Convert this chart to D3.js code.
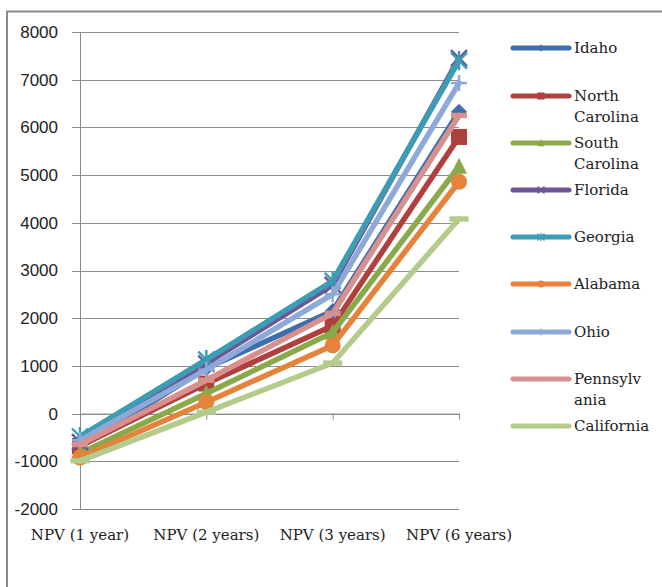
<!DOCTYPE html>
<html><head><meta charset="utf-8">
<script src="https://cdn.jsdelivr.net/npm/d3@7"></script>
<style>body{margin:0;background:#fff;}svg{display:block;}</style>
</head><body>
<svg id="c" width="662" height="587"></svg>
<script>
const categories = ["NPV (1 year)", "NPV (2 years)", "NPV (3 years)", "NPV (6 years)"];
const seriesNames = ["Idaho", "North Carolina", "South Carolina", "Florida", "Georgia", "Alabama", "Ohio", "Pennsylvania", "California"];
const legendLabels = [["Idaho"], ["North", "Carolina"], ["South", "Carolina"], ["Florida"], ["Georgia"], ["Alabama"], ["Ohio"], ["Pennsylv", "ania"], ["California"]];
const idaho = [-700, 950, 2150, 6330];
const northCarolina = [-680, 630, 1840, 5800];
const southCarolina = [-830, 420, 1700, 5180];
const florida = [-600, 1050, 2700, 7450];
const georgia = [-480, 1130, 2780, 7400];
const alabama = [-920, 240, 1430, 4860];
const ohio = [-560, 920, 2500, 6930];
const pennsylvania = [-650, 700, 2100, 6250];
const california = [-990, 30, 1060, 4080];
const yTicks = [-2000, -1000, 0, 1000, 2000, 3000, 4000, 5000, 6000, 7000, 8000];
const seriesValues = [idaho, northCarolina, southCarolina, florida, georgia, alabama, ohio, pennsylvania, california];
const colors = ["#3F6EAD", "#B0403E", "#8AA94A", "#6F5597", "#3C9CB3", "#E5833A", "#8DA9D8", "#D8908F", "#B3CC8C"];
const markers = ["diamond", "square", "triangle", "x", "asterisk", "circle", "plus", "dash", "longdash"];

const svg = d3.select("#c");
// outer border
svg.append("rect").attr("x", 7).attr("y", 11.5).attr("width", 700).attr("height", 700)
  .attr("fill", "none").attr("stroke", "#8a8a8a").attr("stroke-width", 2);

const x = d3.scalePoint().domain(categories).range([80, 459]).padding(0);
const y = d3.scaleLinear().domain([-2000, 8000]).range([509, 32]);

// gridlines + y axis
const yAxis = d3.axisLeft(y).tickValues(yTicks).tickFormat(d => String(d))
  .tickSize(-(459 - 80)).tickPadding(22).tickSizeOuter(0);
const gy = svg.append("g").attr("transform", "translate(80,0)").call(yAxis);
gy.select(".domain").remove();
gy.selectAll(".tick line").attr("stroke", "#8c8c8c").attr("stroke-width", 1).attr("x1", -8).attr("shape-rendering", "crispEdges");
gy.selectAll(".tick text").attr("font-family", "Liberation Sans, Arial, sans-serif").attr("font-size", 17).attr("fill", "#222");
svg.append("line").attr("x1", 80.5).attr("x2", 80.5).attr("y1", y(8000)).attr("y2", y(-2000)).attr("stroke", "#8c8c8c");

// x axis at zero
const xAxis = d3.axisBottom(x).tickSize(6).tickSizeOuter(0).tickFormat("");
const gx = svg.append("g").attr("transform", `translate(0,${y(0)})`).call(xAxis);
gx.select(".domain").attr("stroke", "#8c8c8c");
gx.selectAll(".tick line").attr("stroke", "#8c8c8c");
// category labels at bottom
svg.append("g").selectAll("text").data(categories).join("text")
  .attr("x", d => x(d)).attr("y", 540).attr("text-anchor", "middle")
  .attr("font-family", "DejaVu Serif, serif").attr("font-size", 15).attr("fill", "#222")
  .text(d => d);

function drawMarker(g, type, color, s) {
  const h = s / 2;
  if (type === "diamond") g.append("path").attr("d", `M0,${-h}L${h},0L0,${h}L${-h},0Z`).attr("fill", color);
  else if (type === "square") g.append("rect").attr("x", -h).attr("y", -h).attr("width", s).attr("height", s).attr("fill", color);
  else if (type === "triangle") g.append("path").attr("d", `M0,${-h * 1.1}L${h},${h * 0.9}L${-h},${h * 0.9}Z`).attr("fill", color);
  else if (type === "circle") g.append("circle").attr("r", h).attr("fill", color);
  else if (type === "x") g.append("path").attr("d", `M${-h},${-h}L${h},${h}M${-h},${h}L${h},${-h}`).attr("stroke", color).attr("stroke-width", s / 6.5);
  else if (type === "asterisk") g.append("path").attr("d", `M${-h},${-h}L${h},${h}M${-h},${h}L${h},${-h}M0,${-h * 1.2}L0,${h * 1.2}`).attr("stroke", color).attr("stroke-width", s / 6.5);
  else if (type === "plus") g.append("path").attr("d", `M${-h},0L${h},0M0,${-h}L0,${h}`).attr("stroke", color).attr("stroke-width", s / 6.5);
  else if (type === "dash") g.append("rect").attr("x", -h).attr("y", -s / 6).attr("width", s).attr("height", s / 3).attr("fill", color);
  else if (type === "longdash") g.append("rect").attr("x", -h * 1.2).attr("y", -s / 6).attr("width", s * 1.2).attr("height", s / 3).attr("fill", color);
}

const line = d3.line().x((d, i) => x(categories[i])).y(d => y(d));
seriesValues.forEach((vals, si) => {
  const g = svg.append("g");
  g.append("path").attr("d", line(vals)).attr("fill", "none").attr("stroke", colors[si])
    .attr("stroke-width", 5.5).attr("stroke-linejoin", "round").attr("stroke-linecap", "round");
  vals.forEach((v, i) => {
    const mg = g.append("g").attr("transform", `translate(${x(categories[i])},${y(v)})`);
    drawMarker(mg, markers[si], colors[si], 16);
  });
});

// legend
const legY = [48, 96, 143, 190, 237, 284, 332, 379, 426];
seriesNames.forEach((n, si) => {
  const g = svg.append("g").attr("transform", `translate(0,${legY[si]})`);
  g.append("line").attr("x1", 513).attr("x2", 569).attr("y1", 0).attr("y2", 0)
    .attr("stroke", colors[si]).attr("stroke-width", 5).attr("stroke-linecap", "round");
  const mg = g.append("g").attr("transform", "translate(541,0)");
  drawMarker(mg, markers[si], colors[si], 7);
  legendLabels[si].forEach((t, li) => {
    g.append("text").attr("x", 574).attr("y", 5 + li * 21).attr("font-family", "DejaVu Serif, serif")
      .attr("font-size", 15).attr("fill", "#222").text(t);
  });
});
</script>
</body></html>
